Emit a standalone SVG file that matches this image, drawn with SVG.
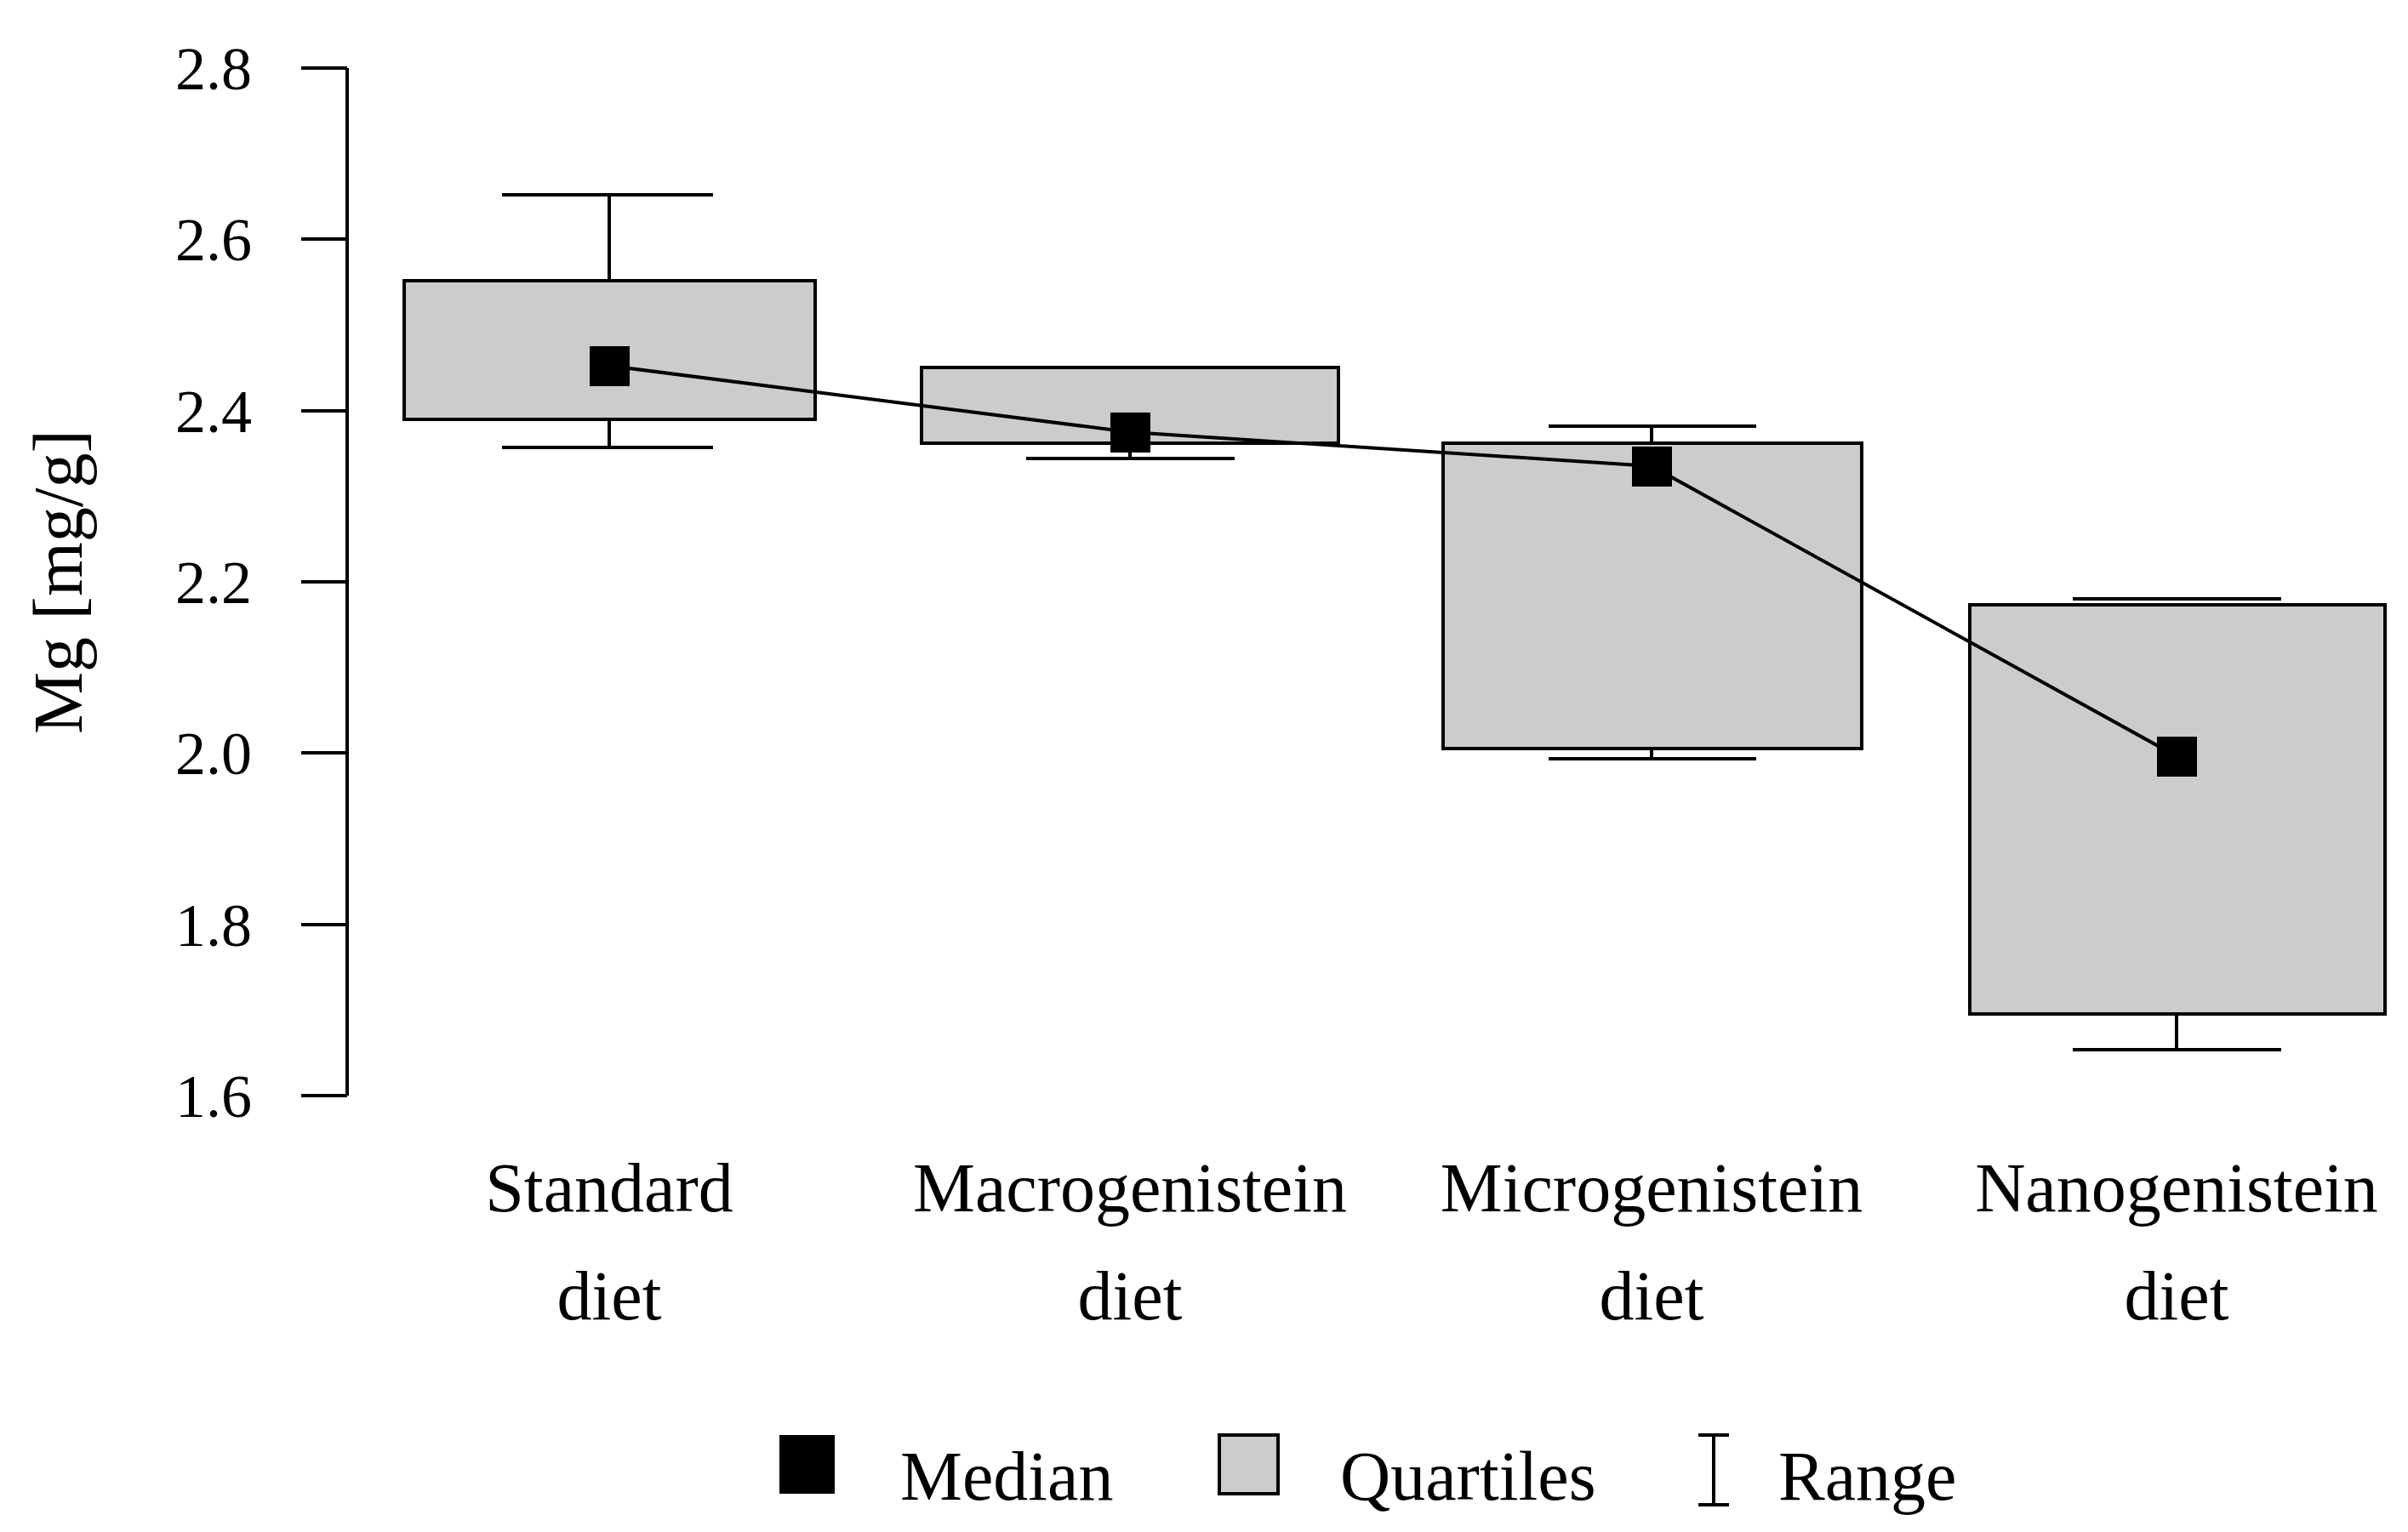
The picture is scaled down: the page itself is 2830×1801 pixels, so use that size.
<svg xmlns="http://www.w3.org/2000/svg" width="2830" height="1801" viewBox="0 0 2830 1801">
<style>
text{font-family:"Liberation Serif",serif;fill:#000}
.t{font-size:72px;text-anchor:end}
.c{font-size:82px;text-anchor:middle}
.l{font-size:82px}
.ln{stroke:#000;stroke-width:4;fill:none}
.box{fill:#cccccc;stroke:#000;stroke-width:4}
</style>
<rect width="2830" height="1801" fill="#fff"/>
<g id="axis">
<path class="ln" d="M408 80V1288M354 80H408M354 281H408M354 483H408M354 684H408M354 885H408M354 1087H408M354 1288H408"/>
<text class="t" x="296" y="105">2.8</text>
<text class="t" x="296" y="306">2.6</text>
<text class="t" x="296" y="508">2.4</text>
<text class="t" x="296" y="709">2.2</text>
<text class="t" x="296" y="910">2.0</text>
<text class="t" x="296" y="1112">1.8</text>
<text class="t" x="296" y="1313">1.6</text>
<text class="l" transform="translate(96 684) rotate(-90)" text-anchor="middle">Mg [mg/g]</text>
</g>
<g id="standard">
<path class="ln" d="M716 229V330M716 493V526M590 229H838M590 526H838"/>
<rect class="box" x="475" y="330" width="483" height="163"/>
<text class="c" x="716" y="1424">Standard</text><text class="c" x="716" y="1551">diet</text>
</g>
<g id="macro">
<path class="ln" d="M1328 521V539M1206 539H1451"/>
<rect class="box" x="1083" y="432" width="490" height="89"/>
<text class="c" x="1328" y="1424">Macrogenistein</text><text class="c" x="1328" y="1551">diet</text>
</g>
<g id="micro">
<path class="ln" d="M1941 501V521M1941 880V892M1820 501H2064M1820 892H2064"/>
<rect class="box" x="1696" y="521" width="492" height="359"/>
<text class="c" x="1941" y="1424">Microgenistein</text><text class="c" x="1941" y="1551">diet</text>
</g>
<g id="nano">
<path class="ln" d="M2558 1192V1234M2436 704H2681M2436 1234H2681"/>
<rect class="box" x="2315" y="711" width="488" height="481"/>
<text class="c" x="2558" y="1424">Nanogenistein</text><text class="c" x="2558" y="1551">diet</text>
</g>
<g id="connectors">
<polyline class="ln" points="716,430 1328,508 1941,548 2558,889" stroke-width="3"/>
<rect x="693" y="407" width="47" height="47"/>
<rect x="1305" y="485" width="47" height="47"/>
<rect x="1918" y="525" width="47" height="47"/>
<rect x="2535" y="866" width="47" height="47"/>
</g>
<g id="legend">
<rect x="916" y="1687" width="65" height="69"/>
<text class="l" x="1058" y="1763">Median</text>
<rect class="box" x="1433" y="1687" width="69" height="69"/>
<text class="l" x="1575" y="1763">Quartiles</text>
<path class="ln" d="M2014 1687V1769M1996 1687H2032M1996 1769H2032"/>
<text class="l" x="2090" y="1763">Range</text>
</g>
</svg>
